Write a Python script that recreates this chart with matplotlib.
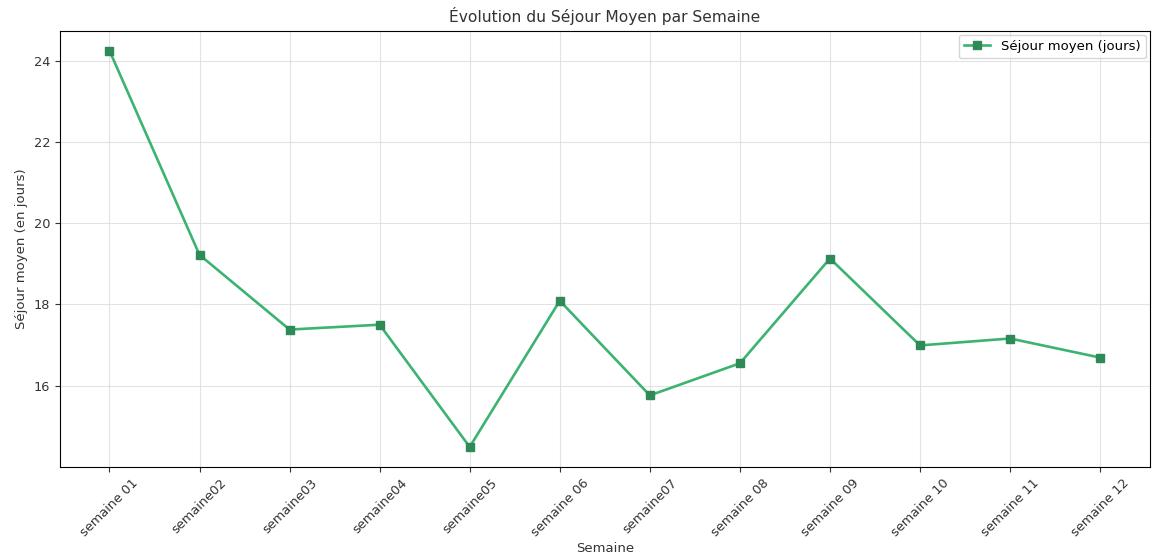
import matplotlib
matplotlib.use("Agg")
import matplotlib.pyplot as plt

semaines = ["semaine 01", "semaine02", "semaine03", "semaine04", "semaine05",
            "semaine 06", "semaine07", "semaine 08", "semaine 09", "semaine 10",
            "semaine 11", "semaine 12"]
sejour_moyen = [24.25, 19.22, 17.38, 17.50, 14.49, 18.09, 15.76, 16.55,
                19.13, 16.99, 17.16, 16.69]

fig = plt.figure(figsize=(11.52, 5.59), dpi=100)
ax = fig.add_axes([0.052, 0.165, 0.946, 0.78])

ax.plot(semaines, sejour_moyen, marker="s", markersize=5.5, linewidth=1.9,
        color="#3CB371", markeredgecolor="#2E8B57", markerfacecolor="#2E8B57",
        label="Séjour moyen (jours)")

ax.set_title("Évolution du Séjour Moyen par Semaine", fontsize=11.2, color="#333333")
ax.set_xlabel("Semaine", fontsize=9.5, color="#333333", labelpad=2)
ax.set_ylabel("Séjour moyen (en jours)", fontsize=9.5, color="#333333")
ax.tick_params(axis="both", labelsize=9.3, colors="#333333")
ax.set_yticks([16, 18, 20, 22, 24])
plt.setp(ax.get_xticklabels(), rotation=45)
ax.grid(True, color="#dddddd", linewidth=0.8, alpha=0.8)
ax.legend(loc="upper right", fontsize=9.5, borderaxespad=0.3)

fig.savefig("out.png", dpi=100)
